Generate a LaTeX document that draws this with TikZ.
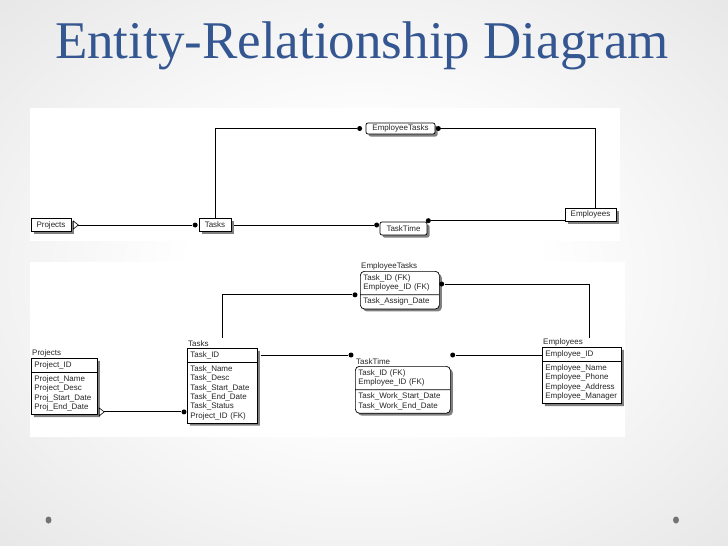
\documentclass[tikz,border=0pt]{standalone}
\usepackage{fontspec}
\setmainfont{Liberation Serif}
\setsansfont{Liberation Sans}
\usetikzlibrary{shapes.multipart, shadows, calc, positioning}

\definecolor{titleblue}{RGB}{52, 86, 145}
\pgfdeclareradialshading{slidebg}{\pgfpoint{0bp}{0bp}}{color(0bp)=(white); color(12bp)=(white); color(50bp)=(black!15); color(71bp)=(black!22); color(100bp)=(black!22)}

\tikzset{
	erfont/.style = {font = \sffamily\fontsize{8}{9.3}\selectfont, text = black!85},
	ershadow/.style = {drop shadow = {shadow xshift = 2.5pt, shadow yshift = -2.5pt, fill = black!50, opacity = 1}},
	tabbox/.style = {draw, fill = white, erfont, ershadow, inner sep = 1pt, minimum height = 13pt, line width = 0.7pt},
	entity/.style = {rectangle split, rectangle split parts = 2, draw, fill = white, erfont, ershadow, align = left, inner xsep = 3pt, inner ysep = 3pt, anchor = north west, line width = 0.7pt},
	depent/.style = {entity, rounded corners = 4pt},
	enttitle/.style = {erfont, anchor = south west, inner sep = 1pt},
	erdot/.style = {circle, fill = black, inner sep = 0pt, minimum size = 5pt},
	erline/.style = {line width = 0.9pt},
}

\newcommand{\optmark}[2]{\draw [fill = white, line width = 0.6pt] #2 ++(0, -4) -- ++(5, 4) coordinate (#1 tip) -- ++(-5, 4) -- cycle;}

\begin{document}
\begin{tikzpicture}[x = 1pt, y = -1pt]

	\useasboundingbox (0, 0) rectangle (728, 546);
	\shade [shading = slidebg] (0, 0) rectangle (728, 546);

	\node [anchor = base, font = \fontsize{53}{60}\selectfont, text = titleblue] (title) at (362, 58) {Entity-Relationship Diagram};

	\fill [white] (30, 108) rectangle (620, 241);
	\fill [white] (30, 262) rectangle (625, 437);

	\fill [black!55] (48.5, 520) ellipse (3 and 3.5);
	\fill [black!55] (676, 520) ellipse (3 and 3.5);

	% overview
	\node [tabbox, minimum width = 40pt] (projects0) at (51, 225) {Projects};
	\node [tabbox, minimum width = 32pt] (tasks0) at (215, 225) {Tasks};
	\node [tabbox, minimum width = 69pt, minimum height = 11pt, rounded corners = 2pt] (emptasks0) at (400.5, 128.5) {EmployeeTasks};
	\node [tabbox, minimum width = 47pt, rounded corners = 2pt] (tasktime0) at (403.5, 228.5) {TaskTime};
	\node [tabbox, minimum width = 51pt] (employees0) at (590.5, 214.5) {Employees};

	\begin{scope}[erline]

		\optmark{pt0}{($(projects0.east) + (2, 0)$)}
		\node [erdot] (pt0 dot) at ($(tasks0.west) + (-3.5, 0)$) {};
		\draw (pt0 tip) -- (pt0 dot);

		\node [erdot] (te0 dot) at ($(emptasks0.west) + (-6, 0)$) {};
		\draw (tasks0.north) |- (te0 dot);

		\node [erdot] (ee0 dot) at ($(emptasks0.east) + (3, 0)$) {};
		\coordinate (ee0 end) at ($(employees0.north east) + (-21, 0)$);
		\draw (ee0 dot) -| (ee0 end);

		\node [erdot] (tt0 dot) at ($(tasktime0.west) + (-3, -3.5)$) {};
		\draw ($(tasks0.east) + (2.5, 0)$) -- (tt0 dot);

		\node [erdot] (tte0 dot) at ($(tasktime0.north east) + (1, -1)$) {};
		\draw (tte0 dot) -- (tte0 dot -| employees0.west);

	\end{scope}

	% tables
	\node [entity, text width = 60pt] (projects) at (31, 358) {Project\_ID \nodepart{two} Project\_Name\\ Project\_Desc\\ Proj\_Start\_Date\\ Proj\_End\_Date};
	\node [enttitle] (projects title) at (projects.north west) {Projects};

	\node [entity, text width = 64pt] (tasks) at (187, 348) {Task\_ID \nodepart{two} Task\_Name\\ Task\_Desc\\ Task\_Start\_Date\\ Task\_End\_Date\\ Task\_Status\\ Project\_ID (FK)};
	\node [enttitle] (tasks title) at (tasks.north west) {Tasks};

	\node [depent, text width = 73pt] (emptasks) at (360, 271) {Task\_ID (FK)\\ Employee\_ID (FK) \nodepart{two} Task\_Assign\_Date};
	\node [enttitle] (emptasks title) at (emptasks.north west) {EmployeeTasks};

	\node [depent, text width = 89pt] (tasktime) at (355, 366) {Task\_ID (FK)\\ Employee\_ID (FK) \nodepart{two} Task\_Work\_Start\_Date\\ Task\_Work\_End\_Date};
	\node [enttitle] (tasktime title) at (tasktime.north west) {TaskTime};

	\node [entity, text width = 73pt] (employees) at (542, 347) {Employee\_ID \nodepart{two} Employee\_Name\\ Employee\_Phone\\ Employee\_Address\\ Employee\_Manager};
	\node [enttitle] (employees title) at (employees.north west) {Employees};

	\begin{scope}[erline]

		\optmark{pt}{($(projects.south east) + (1.5, -3)$)}
		\node [erdot] (pt dot) at ($(pt tip -| tasks.west) + (-3, 0)$) {};
		\draw (pt tip) -- (pt dot);

		\node [erdot] (te dot) at ($(emptasks.text split west) + (-5, 0)$) {};
		\coordinate (te start) at ($(tasks.north west) + (35, -10)$);
		\draw (te start) |- (te dot);

		\node [erdot] (ee dot) at ($(emptasks.north east) + (2, 13)$) {};
		\coordinate (ee end) at ($(employees.north west) + (47, -9)$);
		\draw (ee dot) -| (ee end);

		\node [erdot] (tt dot) at ($(tasktime.north west) + (-4, -11)$) {};
		\draw ($(tt dot -| tasks.east) + (3, 0)$) -- (tt dot);

		\node [erdot] (tte dot) at ($(tasktime.north east) + (2, -11)$) {};
		\draw (tte dot) -- (tte dot -| employees.west);

	\end{scope}

\end{tikzpicture}
\end{document}
